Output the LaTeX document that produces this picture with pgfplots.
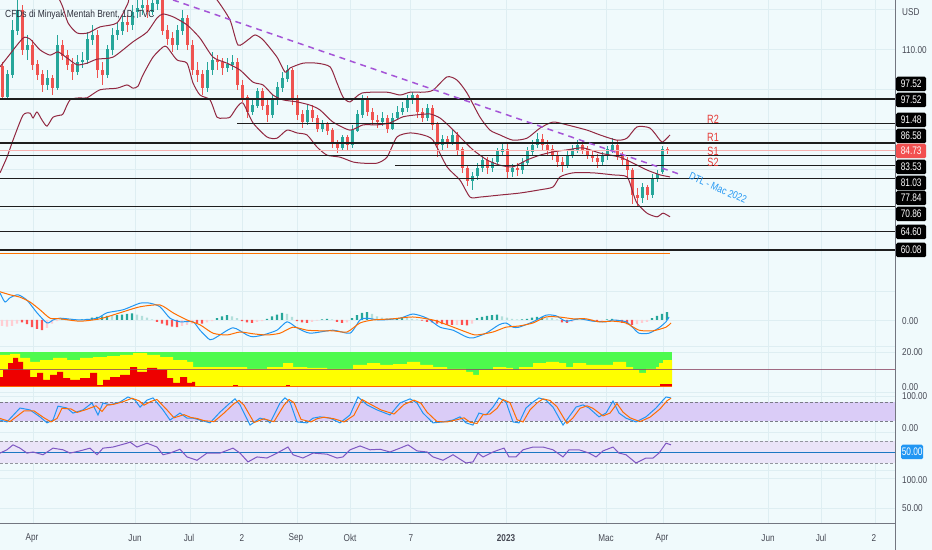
\documentclass[border=0pt]{standalone}
\usepackage{pgfplots}
\pgfplotsset{compat=1.18}
\usepackage{pgfplotstable}
\usepackage{fontspec}
\setmainfont{Liberation Sans}[FakeStretch=0.82]
\newfontfamily\nnf{Liberation Sans}[FakeStretch=0.76]

\definecolor{bg}{RGB}{240,250,252}
\definecolor{gridc}{RGB}{222,238,242}
\definecolor{upc}{RGB}{38,166,154}
\definecolor{dnc}{RGB}{239,83,80}
\definecolor{bbc}{RGB}{145,40,65}
\definecolor{tlc}{RGB}{165,85,215}
\definecolor{txtc}{RGB}{70,73,84}
\definecolor{macdc}{RGB}{33,150,243}
\definecolor{sigc}{RGB}{255,109,0}
\definecolor{hposl}{RGB}{178,223,219}
\definecolor{hneg}{RGB}{255,82,82}
\definecolor{hnegl}{RGB}{255,205,210}
\definecolor{sqg}{RGB}{77,250,77}
\definecolor{sqgd}{RGB}{60,215,60}
\definecolor{sqy}{RGB}{255,255,0}
\definecolor{sqr}{RGB}{238,0,0}
\definecolor{lvl}{RGB}{140,70,100}
\definecolor{band1}{RGB}{218,204,247}
\definecolor{band2}{RGB}{234,228,248}
\definecolor{rsic}{RGB}{126,87,194}
\definecolor{dashc}{RGB}{120,123,134}
\definecolor{redlbl}{RGB}{229,57,53}
\definecolor{boxred}{RGB}{242,80,80}
\definecolor{boxblue}{RGB}{33,150,243}
\definecolor{sepc}{RGB}{115,118,128}
\definecolor{hlc}{RGB}{30,30,30}

\pgfplotsset{pane/.style={scale only axis, width=895bp, xmin=0, xmax=895,
  axis lines=none, clip mode=individual, anchor=south west}}

\pgfplotstableread{
x o h l c
2 105.5 106.7 97.3 98.0
7 98.0 104.7 97.3 103.5
12 103.5 117.1 102.7 114.6
17 114.6 122.1 113.4 119.6
22 119.6 120.8 108.4 109.7
27 109.7 113.4 107.2 110.9
32 110.9 112.2 104.7 106.0
37 106.0 107.2 102.2 103.5
42 103.5 104.7 99.3 101.0
47 101.0 104.7 99.8 102.7
52 102.7 103.5 98.5 100.3
57 100.3 113.4 99.8 110.9
62 110.9 112.2 107.2 108.4
67 108.4 109.7 104.7 106.0
72 106.0 107.7 102.2 104.2
77 104.2 108.4 103.5 106.7
82 106.7 109.2 105.2 107.2
87 107.2 114.1 106.2 112.2
92 112.2 115.9 110.9 113.4
97 113.4 114.6 102.7 104.7
102 104.7 106.7 101.0 103.5
107 103.5 110.9 102.7 109.7
112 109.7 115.1 108.4 113.4
117 113.4 116.6 112.2 114.6
122 114.6 118.4 113.4 116.6
127 116.6 118.4 114.1 115.9
132 115.9 120.8 114.6 119.1
137 119.1 122.1 117.6 120.1
142 120.1 122.6 118.4 120.8
147 120.8 122.1 117.6 119.1
152 119.1 122.8 118.4 121.1
157 121.1 123.3 119.6 122.1
162 122.1 122.8 113.4 114.6
167 114.6 115.9 110.9 112.6
172 112.6 114.1 109.2 110.9
177 110.9 115.9 109.7 114.6
182 114.6 119.6 113.4 117.6
187 117.6 118.4 109.7 110.9
192 110.9 112.2 103.5 104.7
197 104.7 106.7 101.7 103.5
202 103.5 104.7 98.5 100.3
207 100.3 106.7 99.3 104.7
212 104.7 109.2 103.5 107.2
217 107.2 108.4 104.7 106.7
222 106.7 107.7 103.5 105.2
227 105.2 107.7 104.2 106.0
232 106.0 108.4 104.7 106.7
237 106.7 107.7 99.8 101.0
242 101.0 102.2 96.8 97.8
247 97.8 98.5 92.8 94.3
252 94.3 97.3 93.6 96.0
257 96.0 100.3 95.3 99.3
262 99.3 100.3 94.8 96.0
267 96.0 97.3 91.8 93.6
272 93.6 98.5 92.8 97.3
277 97.3 101.7 96.0 100.3
282 100.3 104.2 99.3 102.7
287 102.7 106.0 101.7 104.7
292 104.7 105.2 96.0 97.3
297 97.3 98.5 92.3 93.6
302 93.6 94.8 90.3 91.8
307 91.8 96.0 91.1 94.8
312 94.8 96.0 91.8 92.8
317 92.8 93.6 89.3 90.3
322 90.3 92.3 89.3 91.1
327 91.1 91.8 88.6 89.8
332 89.8 90.3 85.4 86.6
337 86.6 87.4 84.1 85.4
342 85.4 88.6 84.9 87.9
347 87.9 88.6 84.9 86.1
352 86.1 91.1 85.4 89.8
357 89.8 94.8 89.3 93.6
362 93.6 98.5 92.8 97.3
367 97.3 98.3 93.3 94.3
372 94.3 95.3 91.1 92.3
377 92.3 93.6 90.3 91.8
382 91.8 94.3 90.8 92.8
387 92.8 93.6 89.1 90.3
392 90.3 94.0 89.8 92.8
397 92.8 95.8 92.3 94.3
402 94.3 96.8 93.6 95.3
407 95.3 98.5 94.3 97.3
412 97.3 99.3 96.3 98.3
417 98.3 98.8 92.8 94.3
422 94.3 95.3 91.8 92.8
427 92.8 96.3 92.1 95.3
432 95.3 96.0 89.8 91.1
437 91.1 91.8 83.1 86.1
442 86.1 88.6 84.9 87.4
447 87.4 88.4 85.4 86.9
452 86.9 89.8 86.1 88.6
457 88.6 89.3 83.6 84.9
462 84.9 85.6 79.2 80.4
467 80.4 81.2 76.0 77.4
472 77.4 79.4 75.0 78.4
477 78.4 81.7 77.4 80.4
482 80.4 83.6 79.4 82.4
487 82.4 83.1 78.9 80.4
492 80.4 82.9 79.4 81.9
497 81.9 85.4 81.2 84.4
502 84.4 86.4 83.4 84.9
507 84.9 86.6 77.9 79.4
512 79.4 81.4 78.2 80.4
517 80.4 81.7 78.4 79.9
522 79.9 82.9 78.9 81.7
527 81.7 85.6 80.9 84.4
532 84.4 87.4 83.6 86.1
537 86.1 89.1 85.4 87.4
542 87.4 88.8 84.9 86.1
547 86.1 87.4 83.6 84.9
552 84.9 86.1 82.4 83.6
557 83.6 84.4 80.7 81.9
562 81.9 83.1 79.4 80.9
567 80.9 84.9 80.4 83.6
572 83.6 86.1 82.9 84.9
577 84.9 87.4 84.1 86.1
582 86.1 87.1 83.9 84.9
587 84.9 85.9 82.6 83.6
592 83.6 84.9 81.9 82.9
597 82.9 83.9 80.4 81.9
602 81.9 84.4 81.2 83.4
607 83.4 85.9 82.4 84.9
612 84.9 87.9 84.1 86.1
617 86.1 87.4 82.4 83.6
622 83.6 84.4 80.9 82.4
627 82.4 83.1 77.9 79.9
632 79.9 80.4 71.5 73.7
637 73.7 75.5 71.0 73.0
642 73.0 76.7 71.7 75.5
647 75.5 76.2 72.5 73.7
652 73.7 78.9 73.0 77.9
657 77.9 79.9 77.0 78.9
662 79.4 85.9 78.9 84.9
667 84.9 85.6 83.9 84.7
}\candles

\newcommand{\fs}{\fontsize{10}{12}\selectfont}

\begin{document}
\begin{tikzpicture}[x=1bp,y=1bp]
\useasboundingbox (0,0) rectangle (932,550);
\fill[bg] (0,0) rectangle (932,550);
% grid
\foreach \gx in {33,135,190,242,297,350,410,506,606,663,768,821,875}
  \draw[gridc, line width=0.8bp] (\gx,27) -- (\gx,550);
\foreach \gy in {541,501,461,421,381,341,301,259,230,204,198,158,154,118,80,72,42}
  \draw[gridc, line width=0.8bp] (0,\gy) -- (895,\gy);

% ================= MAIN PANE =================
\begin{axis}[pane, at={(0bp,267bp)}, height=283bp, ymin=51.89, ymax=122.07]
\addplot[draw=none, mark=none, restrict y to domain=0:200,
  error bars/.cd, y dir=both, y explicit, error mark=none,
  error bar style={draw=upc, line width=0.8bp, solid}]
  table[x=x, y expr={ifthenelse(\thisrow{c}<\thisrow{o},-1000,(\thisrow{h}+\thisrow{l})/2)},
        y error expr={(\thisrow{h}-\thisrow{l})/2}] {\candles};
\addplot[draw=none, mark=none, restrict y to domain=0:200,
  error bars/.cd, y dir=both, y explicit, error mark=none,
  error bar style={draw=dnc, line width=0.8bp, solid}]
  table[x=x, y expr={ifthenelse(\thisrow{c}<\thisrow{o},(\thisrow{h}+\thisrow{l})/2,-1000)},
        y error expr={(\thisrow{h}-\thisrow{l})/2}] {\candles};
\addplot[draw=none, mark=none, restrict y to domain=0:200,
  error bars/.cd, y dir=both, y explicit, error mark=none,
  error bar style={draw=upc, line width=3bp, solid}]
  table[x=x, y expr={ifthenelse(\thisrow{c}<\thisrow{o},-1000,(\thisrow{o}+\thisrow{c})/2)},
        y error expr={abs(\thisrow{c}-\thisrow{o})/2+0.1}] {\candles};
\addplot[draw=none, mark=none, restrict y to domain=0:200,
  error bars/.cd, y dir=both, y explicit, error mark=none,
  error bar style={draw=dnc, line width=3bp, solid}]
  table[x=x, y expr={ifthenelse(\thisrow{c}<\thisrow{o},(\thisrow{o}+\thisrow{c})/2,-1000)},
        y error expr={abs(\thisrow{c}-\thisrow{o})/2+0.1}] {\candles};

% Bollinger bands
\addplot[bbc, line width=1bp, smooth, tension=0.4] coordinates {
(50,127.0) (62,120.8) (68,116.4) (77,113.9) (88,113.9) (100,115.4) (117,116.4) (128,121.3) (135,125.8) (200,127.0) (217,122.1) (230,117.1) (238,110.9) (248,112.2) (255,113.4) (263,112.2) (277,107.9) (285,104.2) (290,105.2) (303,106.4) (317,106.4) (330,105.5) (337,101.5) (343,98.0) (350,96.8) (362,99.0) (387,99.2) (400,98.5) (410,99.2) (423,99.2) (433,99.7) (447,103.0) (457,102.2) (467,99.0) (480,93.0) (490,89.8) (500,88.6) (513,87.3) (527,87.8) (540,90.3) (553,91.8) (567,91.1) (587,89.8) (600,88.6) (617,87.3) (627,87.8) (637,90.6) (650,90.3) (660,87.3) (663,86.9) (670,88.6)};
\addplot[bbc, line width=1bp, smooth, tension=0.4] coordinates {
(0,105.5) (7,107.7) (23,112.6) (30,112.4) (40,109.7) (50,108.4) (58,109.2) (67,107.7) (77,106.0) (87,106.4) (97,107.4) (113,107.9) (133,111.7) (147,114.1) (157,117.6) (163,118.6) (173,117.9) (187,115.9) (200,112.6) (213,107.9) (227,106.4) (240,104.7) (253,101.7) (263,101.0) (273,98.5) (283,97.3) (297,96.8) (310,96.0) (320,94.8) (333,91.8) (350,89.8) (363,91.1) (377,91.1) (390,91.6) (403,93.1) (417,93.6) (430,93.8) (440,92.8) (450,90.6) (460,88.1) (473,84.9) (487,82.4) (500,81.1) (513,80.7) (527,82.4) (540,83.6) (553,84.4) (567,84.9) (583,85.4) (600,84.1) (620,83.1) (633,81.6) (647,79.9) (660,78.7) (670,78.2)};
\addplot[bbc, line width=1bp, smooth, tension=0.4] coordinates {
(0,79.2) (7,83.1) (13,87.3) (23,93.5) (30,94.0) (33,92.8) (37,94.3) (42,92.3) (47,90.8) (53,93.0) (60,93.5) (63,93.8) (70,97.3) (80,97.8) (87,97.8) (100,99.8) (117,100.2) (127,101.0) (133,100.2) (138,100.7) (143,103.5) (153,107.9) (163,110.4) (167,110.4) (177,107.2) (187,106.4) (193,101.5) (200,98.5) (210,97.3) (217,93.0) (223,92.8) (230,93.0) (237,95.5) (243,96.5) (253,91.6) (267,88.1) (277,87.8) (287,89.8) (297,89.1) (307,88.6) (317,85.6) (327,83.6) (340,83.1) (353,81.9) (363,81.6) (377,81.6) (387,83.1) (397,88.1) (410,89.1) (423,88.6) (433,87.3) (447,80.7) (460,77.4) (470,73.2) (480,73.2) (500,73.7) (520,74.2) (540,75.0) (553,75.7) (560,78.2) (573,79.2) (593,79.2) (613,78.7) (627,78.2) (633,74.2) (637,71.7) (647,69.2) (657,68.3) (663,69.2) (670,68.3)};

\addplot[dnc!45, line width=0.6bp] coordinates {(0,84.73) (895,84.73)};
\addplot[hlc, line width=1.3bp] coordinates {(0,97.52) (895,97.52)};
\addplot[hlc, line width=1.3bp] coordinates {(237,91.48) (895,91.48)};
\addplot[hlc, line width=1.3bp] coordinates {(0,86.58) (895,86.58)};
\addplot[hlc, line width=1.3bp] coordinates {(0,83.53) (895,83.53)};
\addplot[hlc, line width=1.3bp] coordinates {(395,81.03) (895,81.03)};
\addplot[hlc, line width=1.3bp] coordinates {(0,77.84) (895,77.84)};
\addplot[hlc, line width=1.3bp] coordinates {(0,70.86) (895,70.86)};
\addplot[hlc, line width=1.3bp] coordinates {(0,64.60) (895,64.60)};
\addplot[hlc, line width=1.3bp] coordinates {(0,60.08) (895,60.08)};
\addplot[orange!90!red, line width=1bp] coordinates {(0,59.1) (670,59.1)};
\addplot[tlc, line width=1.5bp, dash pattern=on 6bp off 5bp] coordinates {(173,122.07) (678,79.0)};
\end{axis}

% ================= MACD PANE =================
\begin{axis}[pane, at={(0bp,205bp)}, height=61bp, ymin=-4.167, ymax=6.0]
\addplot[ybar, bar width=2.4bp, bar shift=0pt, fill=upc, draw=none] coordinates {
(62,0.1) (67,0.2) (82,0.1) (87,0.2) (92,0.4) (97,0.5) (102,0.6) (107,0.7) (117,0.8) (122,0.9) (127,1.0) (132,1.1) (217,0.3) (222,0.6) (227,0.8) (267,0.2) (272,0.6) (277,0.9) (282,1.2) (322,0.1) (327,0.2) (352,0.3) (357,0.8) (362,1.2) (367,1.3) (397,0.2) (402,0.3) (477,0.3) (482,0.5) (487,0.7) (492,0.8) (497,0.9) (522,0.1) (527,0.2) (532,0.4) (537,0.5) (542,0.5) (577,0.1) (607,0.1) (612,0.2) (652,0.3) (657,0.7) (662,1.0) (667,1.3)};
\addplot[ybar, bar width=2.4bp, bar shift=0pt, fill=hposl, draw=none] coordinates {
(72,0.2) (77,0.1) (112,0.7) (137,0.9) (142,0.7) (147,0.4) (152,0.1) (232,0.6) (237,0.3) (287,1.0) (292,0.5) (332,0.1) (372,1.0) (377,0.6) (382,0.4) (387,0.3) (392,0.2) (407,0.3) (412,0.2) (417,0.1) (502,0.6) (507,0.4) (512,0.2) (517,0.1) (547,0.4) (552,0.3) (557,0.1) (582,0.1) (587,0.1)};
\addplot[ybar, bar width=2.4bp, bar shift=0pt, fill=hneg, draw=none] coordinates {
(22,-0.4) (27,-0.7) (32,-1.2) (37,-1.5) (42,-1.7) (157,-0.3) (162,-0.6) (167,-0.9) (172,-1.1) (177,-1.2) (197,-0.5) (202,-0.6) (242,-0.2) (247,-0.4) (252,-0.5) (297,-0.2) (302,-0.4) (307,-0.5) (337,-0.3) (342,-0.5) (422,-0.1) (427,-0.3) (432,-0.4) (437,-0.6) (442,-0.7) (447,-0.8) (452,-0.8) (462,-0.8) (467,-0.9) (562,-0.4) (567,-0.5) (592,-0.2) (597,-0.3) (617,-0.2) (622,-0.5) (627,-0.7) (632,-0.8)};
\addplot[ybar, bar width=2.4bp, bar shift=0pt, fill=hnegl, draw=none] coordinates {
(2,-1.0) (7,-1.1) (12,-1.0) (17,-0.6) (47,-1.3) (52,-0.6) (57,-0.2) (182,-1.0) (187,-0.8) (192,-0.6) (207,-0.4) (212,-0.2) (257,-0.3) (262,-0.2) (312,-0.3) (317,-0.1) (347,-0.4) (457,-0.8) (472,-0.6) (572,-0.3) (602,-0.2) (637,-0.7) (642,-0.5) (647,-0.3)};
\addplot[macdc, line width=1bp, smooth, tension=0.4] coordinates {
(0,4.5) (5,3.0) (10,3.7) (18,4.2) (27,3.3) (37,1.2) (47,-0.5) (53,0) (60,0.3) (80,0) (97,0.3) (107,1.2) (123,1.7) (140,2.8) (150,2.8) (160,2.2) (170,0.3) (180,-0.3) (193,-0.3) (200,-1.7) (210,-3.3) (217,-2.8) (233,-1.3) (247,-2.5) (253,-2.8) (263,-2.5) (277,-1.7) (287,-0.3) (297,-1.3) (310,-2.2) (333,-1.7) (350,-2.2) (360,0) (367,0.3) (380,0) (400,0.3) (413,1.0) (427,0.3) (440,-1.2) (453,-1.7) (466,-2.8) (473,-3.0) (486,-2.2) (499,-0.8) (506,-0.5) (513,-1.2) (519,-1.2) (533,-0.3) (546,0.8) (556,0.7) (566,-0.2) (579,0.2) (593,-0.2) (606,-0.3) (613,0) (626,-0.3) (633,-1.3) (639,-2.2) (649,-2.2) (659,-1.3) (666,-0.3) (669,0.5)};
\addplot[sigc, line width=1bp, smooth, tension=0.4] coordinates {
(0,4.7) (10,4.2) (20,3.8) (30,3.0) (40,1.7) (50,0.3) (60,0.2) (80,-0.2) (100,0.2) (120,1.2) (140,2.2) (160,2.5) (173,1.2) (187,0) (200,-0.8) (213,-2.2) (227,-2.5) (240,-2.0) (253,-2.3) (267,-2.5) (280,-2.2) (293,-1.2) (307,-1.7) (320,-1.8) (333,-1.8) (347,-2.0) (360,-0.5) (373,0) (393,0.2) (413,0.5) (433,0) (447,-0.8) (466,-2.0) (476,-2.5) (493,-2.0) (506,-1.2) (519,-1.0) (533,-0.5) (546,0.5) (559,0.5) (573,0.2) (586,0.2) (599,-0.3) (613,-0.2) (626,-0.5) (639,-1.7) (653,-1.8) (666,-1.2) (671,-0.5)};
\end{axis}

% ================= COLOUR-BAND PANE =================
\begin{axis}[pane, at={(0bp,158bp)}, height=46bp, ymin=-2.857, ymax=23.43]
\addplot[fill=sqg, draw=none] coordinates {(0,0) (0,20) (672,20) (672,0)} -- cycle;
\addplot[const plot, fill=sqy, draw=none] coordinates {
(0,0) (0,18.3) (10,18.9) (20,16.6) (30,14.3) (40,15.4) (53,16.6) (67,15.4) (80,16.6) (93,17.1) (107,17.7) (120,18.3) (133,19.4) (147,18.3) (160,17.1) (173,15.4) (187,14.3) (193,11.4) (200,11.4) (233,11.4) (247,10.3) (267,11.4) (283,13.7) (293,11.4) (307,10.9) (327,10.3) (340,10.3) (353,12.6) (367,13.7) (380,12.6) (393,13.1) (407,14.3) (420,12.6) (433,11.4) (447,10.3) (466,8.6) (473,6.9) (479,9.7) (493,11.4) (506,10.9) (513,9.7) (519,11.4) (533,13.7) (546,14.3) (559,13.7) (566,11.4) (573,13.7) (586,12.6) (599,12.6) (613,14.3) (626,11.4) (633,9.7) (639,8.0) (646,10.3) (656,11.4) (659,13.7) (663,15.4) (672,15.4) (672,0)} -- cycle;
\addplot[const plot, fill=sqr, draw=none] coordinates {
(0,0) (0,5.7) (3,9.7) (8,13.7) (13,16.6) (18,14.3) (23,9.7) (30,5.7) (37,8.0) (43,4.0) (50,6.9) (57,8.6) (63,5.1) (70,4.0) (80,5.1) (90,8.0) (97,1.1) (103,4.0) (110,5.7) (120,6.9) (130,11.4) (137,8.6) (147,10.9) (157,9.7) (167,5.1) (173,2.3) (180,5.7) (187,2.3) (192,2.9) (195,0)} -- cycle;
\addplot[fill=sqr, draw=none] coordinates {(233,0) (233,1.1) (238,1.1) (238,0)} -- cycle;
\addplot[fill=sqr, draw=none] coordinates {(286,0) (286,0.9) (290,0.9) (290,0)} -- cycle;
\addplot[fill=sqr, draw=none] coordinates {(405,0) (405,0.8) (410,0.8) (410,0)} -- cycle;
\addplot[fill=sqr, draw=none] coordinates {(660,0) (660,1.7) (672,1.7) (672,0)} -- cycle;
\addplot[lvl, opacity=0.8, line width=1.3bp] coordinates {(0,10) (895,10)};
\addplot[orange!80!red, line width=1bp] coordinates {(0,0) (672,0)};
\end{axis}

% ================= STOCH RSI PANE =================
\begin{axis}[pane, at={(0bp,118bp)}, height=39bp, ymin=-14.9, ymax=108.6]
\addplot[fill=band1, draw=none] coordinates {(0,20) (895,20) (895,80) (0,80)} -- cycle;
\addplot[dashc, line width=0.6bp, dash pattern=on 3bp off 2bp] coordinates {(0,80) (895,80)};
\addplot[dashc, line width=0.6bp, dash pattern=on 3bp off 2bp] coordinates {(0,20) (895,20)};
\addplot[macdc, line width=1bp] coordinates {
(0,23) (7,17) (20,61) (30,55) (40,33) (47,14) (53,23) (58,67) (67,61) (73,45) (83,55) (92,77) (98,39) (103,77) (110,71) (120,80) (128,96) (135,86) (140,64) (147,86) (153,93) (163,55) (170,23) (180,45) (187,29) (193,29) (200,23) (210,14) (220,48) (230,77) (235,90) (240,71) (250,7) (260,29) (267,23) (270,14) (280,77) (285,93) (290,80) (297,17) (307,14) (313,29) (320,33) (330,29) (340,14) (350,39) (358,96) (367,71) (377,55) (390,39) (400,77) (410,90) (417,77) (423,45) (433,14) (443,17) (453,23) (460,33) (466,14) (473,7) (479,45) (486,39) (493,64) (499,93) (506,80) (513,17) (519,14) (526,61) (533,80) (539,93) (546,86) (553,64) (563,7) (569,33) (576,64) (583,71) (589,61) (599,33) (606,45) (613,83) (619,45) (626,29) (636,17) (646,33) (656,61) (663,86) (666,96) (671,93)};
\addplot[sigc, line width=1bp] coordinates {
(0,28) (10,18) (24,52) (34,52) (44,30) (51,17) (57,28) (62,60) (71,58) (77,47) (87,57) (96,68) (102,50) (107,70) (114,73) (124,82) (132,92) (139,84) (144,70) (151,82) (157,88) (167,55) (174,30) (184,40) (191,31) (197,28) (204,21) (214,18) (224,45) (234,75) (239,85) (244,70) (254,15) (264,27) (271,20) (274,18) (284,70) (289,88) (294,78) (301,25) (311,17) (317,27) (324,32) (334,27) (344,17) (354,38) (362,88) (371,72) (381,55) (394,42) (404,72) (414,86) (421,76) (427,48) (437,18) (447,17) (457,24) (464,30) (470,16) (477,12) (483,40) (490,42) (497,60) (503,88) (510,78) (517,24) (523,17) (530,55) (537,77) (543,90) (550,85) (557,65) (567,12) (573,30) (580,60) (587,68) (593,60) (603,36) (610,45) (617,75) (623,48) (630,30) (640,18) (650,32) (660,58) (667,84) (671,92)};
\end{axis}

% ================= RSI PANE =================
\begin{axis}[pane, at={(0bp,80bp)}, height=37bp, ymin=17.27, ymax=84.55]
\addplot[fill=band2, draw=none] coordinates {(0,30) (895,30) (895,70) (0,70)} -- cycle;
\addplot[dashc!80, line width=0.6bp, dash pattern=on 3bp off 2bp] coordinates {(0,70) (895,70)};
\addplot[dashc!80, line width=0.6bp, dash pattern=on 3bp off 2bp] coordinates {(0,30) (895,30)};
\addplot[macdc!80!black, line width=0.8bp] coordinates {(0,50) (895,50)};
\addplot[rsic, line width=1bp] coordinates {
(0,48) (7,54) (13,63) (20,57) (27,48) (33,50) (43,45) (53,57) (63,54) (70,48) (80,52) (90,57) (97,45) (103,57) (113,59) (127,66) (130,68) (137,59) (147,66) (157,59) (163,45) (170,48) (180,55) (187,41) (197,35) (207,48) (220,48) (233,57) (240,48) (248,32) (257,41) (267,39) (277,48) (288,59) (293,45) (303,39) (313,48) (327,46) (337,39) (343,41) (350,54) (360,61) (370,54) (380,55) (390,50) (400,57) (408,63) (417,52) (427,50) (433,41) (443,35) (453,45) (466,30) (473,32) (478,48) (483,41) (493,50) (499,54) (504,57) (509,41) (516,41) (523,54) (533,59) (543,59) (553,54) (563,41) (569,54) (579,54) (589,48) (596,41) (603,52) (613,59) (619,48) (626,45) (636,30) (646,39) (653,39) (659,48) (666,66) (671,63)};
\end{axis}

% ================= frame, scale labels =================
\draw[sepc, line width=0.9bp] (0,27) -- (895,27);
\draw[sepc, line width=0.9bp] (895,0) -- (895,550);

\begin{scope}[every node/.style={font=\fs, text=txtc, inner sep=0pt}]
\node[anchor=west] at (902,538) {USD};
\node[anchor=west] at (902,500) {110.00};
\node[anchor=west] at (902,229) {0.00};
\node[anchor=west] at (902,198) {20.00};
\node[anchor=west] at (902,163) {0.00};
\node[anchor=west] at (902,154) {100.00};
\node[anchor=west] at (902,122) {0.00};
\node[anchor=west] at (902,70) {100.00};
\node[anchor=west] at (902,42) {50.00};
\end{scope}

\begin{scope}[every node/.style={font=\nnf\fontsize{11}{12}\selectfont, text=white, fill=black, rounded corners=1.5bp,
   minimum width=30bp, minimum height=14.5bp, inner sep=0pt, anchor=west}]
\node at (896,466) {97.52};
\node at (896,450) {97.52};
\node at (896,430) {91.48};
\node at (896,414) {86.58};
\node[fill=boxred] at (896,399) {84.73};
\node at (896,383) {83.53};
\node at (896,367) {81.03};
\node at (896,352) {77.84};
\node at (896,336) {70.86};
\node at (896,318) {64.60};
\node at (896,300) {60.08};
\node[fill=boxblue, minimum width=22bp] at (901,98) {50.00};
\end{scope}

\node[anchor=west, font=\fontsize{10.3}{12}\selectfont, text={rgb,255:red,45;green,48;blue,60}, inner sep=0pt] at (5,535) {CFDs di Minyak Mentah Brent, 1D, TVC};

\begin{scope}[every node/.style={font=\nnf\fontsize{12}{13}\selectfont, text=redlbl, inner sep=0pt}]
\node at (713,431) {R2};
\node at (713,413) {R1};
\node at (713,399) {S1};
\node at (713,388) {S2};
\end{scope}
\node[rotate=-24, font=\fontsize{10.5}{12}\selectfont, text={rgb,255:red,33;green,150;blue,243}, inner sep=0pt] at (718,362) {DTL - Mac 2022};

\begin{scope}[every node/.style={font=\fs, text=txtc, inner sep=0pt}]
\node at (32,12) {Apr};
\node at (135,12) {Jun};
\node at (189,12) {Jul};
\node at (242,12) {2};
\node at (296,12) {Sep};
\node at (350,12) {Okt};
\node at (411,12) {7};
\node[font=\fs\bfseries] at (506,12) {2023};
\node at (606,12) {Mac};
\node at (662,12) {Apr};
\node at (768,12) {Jun};
\node at (821,12) {Jul};
\node at (874,12) {2};
\end{scope}
\end{tikzpicture}
\end{document}
